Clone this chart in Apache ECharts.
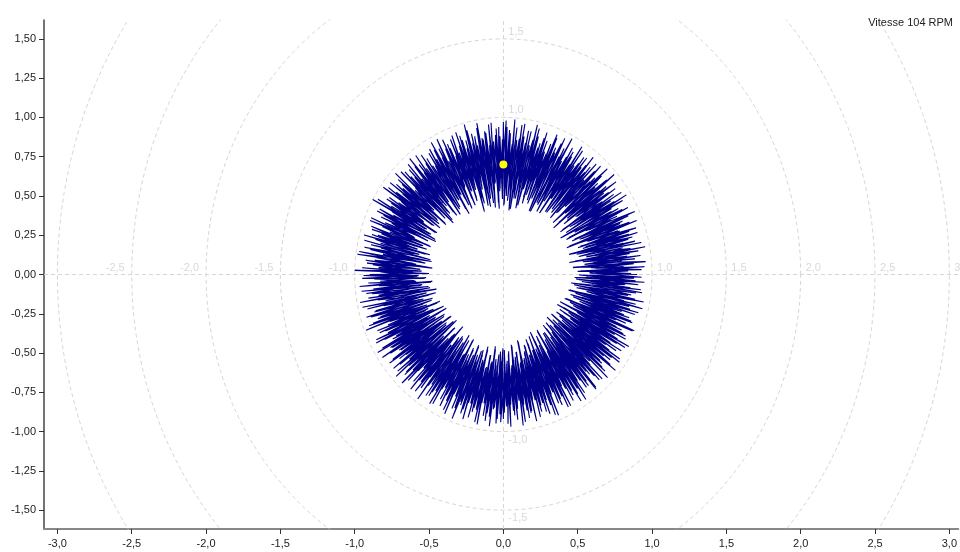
<!DOCTYPE html>
<html>
<head>
<meta charset="utf-8">
<script src="https://cdn.jsdelivr.net/npm/echarts@6/dist/echarts.min.js"></script>
<style>
  html, body { margin: 0; padding: 0; background: #fff; }
  #chart { width: 960px; height: 552px; }
</style>
</head>
<body>
<div id="chart"></div>
<script>
// mesure polaire sur deux tours : une pointe puis un creux tous les 1,5 degres
var stepDeg = 1.5
var turn2OffsetDeg = 0.4
var troughLagDeg = [0.75, 2.25]
var peakR = [
  0.90, 0.84, 0.95, 0.88, 0.80, 0.93, 0.86, 0.97, 0.82, 0.91, 0.87, 0.94,
  0.89, 0.83, 0.96, 0.85, 0.92, 0.80, 0.94, 0.88, 0.84, 0.97, 0.86, 0.90,
  0.93, 0.85, 0.89, 0.98, 0.83, 0.91, 0.87, 0.95, 0.81, 0.90, 0.96, 0.86,
  0.92, 0.84, 0.97, 0.88, 0.93, 0.82, 0.90, 0.96, 0.85, 0.94, 0.89, 0.83,
  0.95, 0.87, 0.91, 0.98, 0.84, 0.93, 0.89, 0.96, 0.86, 0.99, 0.90, 0.94,
  0.97, 0.88, 0.93, 0.85, 0.96, 0.91, 0.87, 0.98, 0.84, 0.92, 0.95, 0.89,
  0.90, 0.96, 0.83, 0.93, 0.88, 0.95, 0.81, 0.91, 0.97, 0.86, 0.92, 0.84,
  0.94, 0.85, 0.90, 0.97, 0.82, 0.92, 0.88, 0.95, 0.80, 0.93, 0.87, 0.96,
  0.89, 0.98, 0.84, 0.92, 0.87, 1.00, 0.83, 0.94, 0.90, 0.86, 0.96, 0.81,
  0.93, 0.88, 0.97, 0.85, 0.91, 0.95, 0.82, 0.99, 0.87, 0.92, 0.84, 1.00,
  0.90, 0.95, 0.83, 0.97, 0.88, 0.93, 0.85, 0.98, 0.81, 0.94, 0.89, 0.96,
  0.87, 0.93, 0.99, 0.84, 0.91, 0.86, 0.96, 0.82, 0.94, 0.89, 0.97, 0.85,
  0.92, 0.88, 0.95, 0.83, 0.97, 0.90, 0.86, 0.93, 0.80, 0.96, 0.88, 0.91,
  0.98, 0.85, 0.92, 0.87, 0.95, 0.82, 0.94, 0.89, 0.97, 0.84, 0.91, 0.86,
  0.93, 0.96, 0.85, 0.90, 0.88, 0.97, 0.83, 0.94, 0.91, 0.86, 0.95, 0.89,
  0.92, 0.84, 0.97, 0.87, 0.93, 0.81, 0.95, 0.88, 0.90, 0.96, 0.83, 0.91,
  0.86, 0.94, 0.89, 0.97, 0.82, 0.92, 0.87, 0.95, 0.84, 0.90, 0.96, 0.88,
  0.93, 0.85, 0.91, 0.96, 0.83, 0.89, 0.94, 0.80, 0.92, 0.87, 0.97, 0.85,
  0.90, 0.95, 0.82, 0.93, 0.88, 0.96, 0.84, 0.91, 0.87, 0.94, 0.81, 0.92,
  0.89, 0.83, 0.94, 0.87, 0.91, 0.96, 0.85, 0.90, 0.93, 0.82, 0.95, 0.88
]
var troughR = [
  0.58, 0.50, 0.62, 0.47, 0.55, 0.60, 0.45, 0.57, 0.52, 0.63, 0.49, 0.56,
  0.53, 0.61, 0.46, 0.58, 0.51, 0.64, 0.48, 0.55, 0.60, 0.50, 0.57, 0.47,
  0.62, 0.52, 0.56, 0.45, 0.59, 0.50, 0.63, 0.54, 0.48, 0.60, 0.53, 0.57,
  0.49, 0.58, 0.53, 0.61, 0.46, 0.56, 0.51, 0.59, 0.44, 0.55, 0.62, 0.50,
  0.57, 0.47, 0.60, 0.52, 0.43, 0.58, 0.49, 0.54, 0.41, 0.56, 0.50, 0.45,
  0.48, 0.55, 0.42, 0.59, 0.51, 0.46, 0.57, 0.44, 0.53, 0.60, 0.47, 0.55,
  0.60, 0.52, 0.57, 0.48, 0.62, 0.54, 0.50, 0.58, 0.45, 0.56, 0.61, 0.51,
  0.55, 0.63, 0.49, 0.58, 0.53, 0.60, 0.47, 0.56, 0.62, 0.51, 0.57, 0.54,
  0.61, 0.56, 0.64, 0.52, 0.59, 0.55, 0.62, 0.50, 0.58, 0.65, 0.53, 0.57,
  0.54, 0.60, 0.51, 0.58, 0.63, 0.49, 0.56, 0.61, 0.52, 0.59, 0.55, 0.50,
  0.57, 0.52, 0.60, 0.48, 0.55, 0.62, 0.50, 0.58, 0.53, 0.47, 0.59, 0.54,
  0.51, 0.58, 0.46, 0.55, 0.61, 0.49, 0.56, 0.44, 0.53, 0.59, 0.48, 0.57,
  0.45, 0.54, 0.50, 0.58, 0.43, 0.56, 0.48, 0.61, 0.52, 0.46, 0.57, 0.50,
  0.55, 0.49, 0.60, 0.45, 0.53, 0.58, 0.47, 0.56, 0.51, 0.62, 0.48, 0.54,
  0.59, 0.50, 0.56, 0.47, 0.61, 0.52, 0.57, 0.46, 0.54, 0.60, 0.49, 0.55,
  0.48, 0.57, 0.51, 0.60, 0.45, 0.55, 0.50, 0.58, 0.43, 0.56, 0.52, 0.47,
  0.54, 0.44, 0.58, 0.49, 0.52, 0.41, 0.56, 0.47, 0.60, 0.43, 0.53, 0.50,
  0.46, 0.55, 0.42, 0.51, 0.58, 0.45, 0.53, 0.40, 0.56, 0.48, 0.44, 0.52,
  0.50, 0.43, 0.55, 0.47, 0.52, 0.41, 0.57, 0.46, 0.53, 0.49, 0.44, 0.56,
  0.52, 0.47, 0.58, 0.45, 0.60, 0.50, 0.55, 0.46, 0.59, 0.51, 0.48, 0.56
]
// deuxieme tour
var peakR2 = [
  0.86, 0.93, 0.81, 0.96, 0.89, 0.84, 0.92, 0.87, 0.95, 0.83, 0.90, 0.88,
  0.94, 0.82, 0.91, 0.87, 0.97, 0.85, 0.90, 0.83, 0.93, 0.88, 0.95, 0.81,
  0.88, 0.96, 0.84, 0.92, 0.86, 0.97, 0.83, 0.90, 0.94, 0.85, 0.89, 0.93,
  0.87, 0.95, 0.83, 0.91, 0.86, 0.98, 0.84, 0.92, 0.88, 0.96, 0.82, 0.90,
  0.91, 0.84, 0.96, 0.88, 0.93, 0.85, 0.97, 0.87, 0.94, 0.83, 0.92, 0.98,
  0.86, 0.94, 0.89, 0.97, 0.83, 0.92, 0.88, 0.95, 0.90, 0.86, 0.99, 0.84,
  0.93, 0.87, 0.95, 0.82, 0.91, 0.89, 0.97, 0.85, 0.92, 0.94, 0.83, 0.90,
  0.88, 0.96, 0.84, 0.91, 0.95, 0.86, 0.93, 0.81, 0.97, 0.89, 0.92, 0.85,
  0.95, 0.83, 0.91, 0.88, 0.97, 0.85, 0.93, 0.89, 0.82, 0.96, 0.87, 0.94,
  0.86, 0.92, 0.89, 0.96, 0.84, 0.91, 0.98, 0.86, 0.93, 0.88, 0.95, 0.83,
  0.94, 0.87, 0.91, 0.84, 0.96, 0.89, 0.92, 0.86, 0.97, 0.83, 0.90, 0.93,
  0.89, 0.96, 0.82, 0.92, 0.87, 0.95, 0.90, 0.85, 0.98, 0.88, 0.91, 0.84,
  0.95, 0.83, 0.90, 0.94, 0.86, 0.92, 0.97, 0.84, 0.91, 0.88, 0.95, 0.82,
  0.87, 0.93, 0.89, 0.96, 0.84, 0.90, 0.86, 0.95, 0.83, 0.92, 0.98, 0.88,
  0.90, 0.85, 0.94, 0.87, 0.96, 0.83, 0.91, 0.89, 0.97, 0.85, 0.92, 0.94,
  0.88, 0.95, 0.83, 0.90, 0.86, 0.97, 0.84, 0.93, 0.89, 0.82, 0.94, 0.87,
  0.92, 0.85, 0.96, 0.83, 0.90, 0.88, 0.95, 0.81, 0.93, 0.87, 0.91, 0.97,
  0.84, 0.91, 0.88, 0.95, 0.86, 0.93, 0.82, 0.96, 0.89, 0.85, 0.92, 0.90,
  0.96, 0.86, 0.90, 0.84, 0.94, 0.87, 0.92, 0.89, 0.83, 0.95, 0.88, 0.91,
  0.85, 0.92, 0.88, 0.96, 0.83, 0.90, 0.87, 0.94, 0.86, 0.91, 0.89, 0.93
]
var troughR2 = [
  0.52, 0.59, 0.47, 0.61, 0.54, 0.49, 0.57, 0.63, 0.51, 0.46, 0.58, 0.55,
  0.60, 0.48, 0.56, 0.53, 0.62, 0.50, 0.57, 0.45, 0.59, 0.54, 0.49, 0.61,
  0.55, 0.63, 0.50, 0.57, 0.47, 0.60, 0.53, 0.58, 0.51, 0.64, 0.49, 0.56,
  0.58, 0.46, 0.54, 0.60, 0.50, 0.56, 0.44, 0.59, 0.52, 0.48, 0.57, 0.53,
  0.51, 0.56, 0.45, 0.59, 0.49, 0.53, 0.42, 0.57, 0.47, 0.55, 0.44, 0.58,
  0.53, 0.46, 0.58, 0.43, 0.55, 0.49, 0.60, 0.45, 0.56, 0.51, 0.42, 0.57,
  0.50, 0.58, 0.53, 0.61, 0.47, 0.55, 0.59, 0.49, 0.57, 0.52, 0.63, 0.48,
  0.59, 0.52, 0.61, 0.55, 0.49, 0.58, 0.53, 0.64, 0.50, 0.56, 0.60, 0.52,
  0.57, 0.63, 0.53, 0.60, 0.56, 0.51, 0.61, 0.55, 0.64, 0.52, 0.58, 0.62,
  0.60, 0.54, 0.62, 0.50, 0.57, 0.53, 0.59, 0.48, 0.56, 0.61, 0.51, 0.58,
  0.53, 0.59, 0.49, 0.56, 0.51, 0.58, 0.46, 0.60, 0.52, 0.56, 0.50, 0.57,
  0.55, 0.48, 0.57, 0.52, 0.45, 0.58, 0.50, 0.54, 0.47, 0.56, 0.51, 0.44,
  0.49, 0.56, 0.45, 0.53, 0.59, 0.47, 0.55, 0.50, 0.43, 0.57, 0.52, 0.48,
  0.58, 0.51, 0.55, 0.48, 0.57, 0.46, 0.60, 0.52, 0.55, 0.49, 0.58, 0.51,
  0.53, 0.57, 0.49, 0.60, 0.52, 0.56, 0.48, 0.58, 0.51, 0.55, 0.47, 0.59,
  0.55, 0.49, 0.58, 0.46, 0.53, 0.50, 0.57, 0.44, 0.55, 0.51, 0.48, 0.54,
  0.47, 0.52, 0.43, 0.55, 0.48, 0.51, 0.45, 0.57, 0.42, 0.50, 0.46, 0.54,
  0.51, 0.45, 0.49, 0.42, 0.54, 0.47, 0.50, 0.44, 0.52, 0.41, 0.49, 0.46,
  0.47, 0.53, 0.44, 0.50, 0.46, 0.55, 0.42, 0.51, 0.48, 0.45, 0.54, 0.49,
  0.55, 0.50, 0.46, 0.57, 0.52, 0.48, 0.60, 0.53, 0.49, 0.56, 0.51, 0.58
]
var marker = [0, 0.7]
var ringRadii = [1.0, 1.5, 2.0, 2.5, 3.0]
var xTicks = [-3.0, -2.5, -2.0, -1.5, -1.0, -0.5, 0.0, 0.5, 1.0, 1.5, 2.0, 2.5, 3.0]
var yTicks = [-1.5, -1.25, -1.0, -0.75, -0.5, -0.25, 0.0, 0.25, 0.5, 0.75, 1.0, 1.25, 1.5]
var titleText = 'Vitesse 104 RPM'

var FONT = '"Liberation Sans", Arial, sans-serif'
var GRID_GREY = '#d6d6d6'

function polarToXY (r, deg) {
  var a = deg * Math.PI / 180
  return [r * Math.cos(a), r * Math.sin(a)]
}

function comma (v, d) {
  return v.toFixed(d).replace('.', ',')
}

// trace : pointe puis creux, en tournant, tour apres tour
var trace = []
function addTurn (peaks, troughs, offset, lag) {
  for (var i = 0; i < peaks.length; i++) {
    trace.push(polarToXY(peaks[i], offset + i * stepDeg))
    trace.push(polarToXY(troughs[i], offset + i * stepDeg + lag))
  }
}
addTurn(peakR, troughR, 0, troughLagDeg[0])
addTurn(peakR2, troughR2, turn2OffsetDeg, troughLagDeg[1])
trace.push(trace[0])

// cercles de la grille polaire
var ringSeries = ringRadii.map(function (r, k) {
  var pts = []
  for (var d = 0; d <= 360; d += 2) pts.push(polarToXY(r, d))
  var s = {
    type: 'line',
    data: pts,
    showSymbol: false,
    silent: true,
    clip: true,
    z: 1,
    lineStyle: { color: GRID_GREY, width: 1, type: [4, 3] }
  }
  if (k === 0) {
    s.markLine = {
      silent: true,
      symbol: 'none',
      label: { show: false },
      lineStyle: { color: GRID_GREY, width: 1, type: [4, 3] },
      data: [{ xAxis: 0 }, { yAxis: 0 }]
    }
  }
  return s
})

// libelles des cercles sur les axes
var ringLabels = []
ringRadii.forEach(function (r) {
  var txt = comma(r, 1)
  ringLabels.push({ value: [r, 0], label: { position: 'right', offset: [0, -7], formatter: r === 3 ? '3' : txt } })
  if (r < 3) {
    ringLabels.push({ value: [-r, 0], label: { position: 'left', offset: [-2, -7], formatter: '-' + txt } })
  }
  if (r <= 1.5) {
    ringLabels.push({ value: [0, r], label: { position: 'right', offset: [0, -7], formatter: txt } })
    ringLabels.push({ value: [0, -r], label: { position: 'right', offset: [0, 8], formatter: '-' + txt } })
  }
})

var chart = echarts.init(document.getElementById('chart'))
chart.setOption({
  animation: false,
  backgroundColor: '#fff',
  textStyle: { fontFamily: FONT },
  title: {
    text: titleText,
    right: 2,
    top: 12,
    textStyle: { fontFamily: FONT, fontSize: 11, fontWeight: 'normal', color: '#222' }
  },
  grid: { left: 44, right: 0, top: 20, bottom: 23 },
  xAxis: {
    type: 'value',
    min: -3.09,
    max: 3.06,
    axisLine: { show: true, onZero: false, lineStyle: { color: '#888', width: 2 } },
    axisTick: { show: true, length: 5, lineStyle: { color: '#333' }, customValues: xTicks },
    axisLabel: {
      customValues: xTicks,
      margin: 9,
      fontSize: 11,
      color: '#222',
      fontFamily: FONT,
      formatter: function (v) { return comma(v, 1) }
    },
    splitLine: { show: false }
  },
  yAxis: {
    type: 'value',
    min: -1.62,
    max: 1.62,
    axisLine: { show: true, onZero: false, lineStyle: { color: '#444', width: 1.5 } },
    axisTick: { show: true, length: 5, lineStyle: { color: '#333' }, customValues: yTicks },
    axisLabel: {
      customValues: yTicks,
      margin: 8,
      fontSize: 11,
      color: '#222',
      fontFamily: FONT,
      formatter: function (v) { return comma(v, 2) }
    },
    splitLine: { show: false }
  },
  series: ringSeries.concat([
    {
      type: 'scatter',
      data: ringLabels,
      symbolSize: 0,
      silent: true,
      z: 2,
      label: { show: true, color: '#cfcfcf', fontSize: 11, fontFamily: FONT }
    },
    {
      name: 'trace',
      type: 'line',
      data: trace,
      showSymbol: false,
      clip: true,
      z: 5,
      lineStyle: { color: '#00008b', width: 1.1 }
    },
    {
      type: 'scatter',
      data: [marker],
      symbolSize: 8,
      z: 10,
      itemStyle: { color: '#ffff00', opacity: 1 }
    }
  ])
})
</script>
</body>
</html>
